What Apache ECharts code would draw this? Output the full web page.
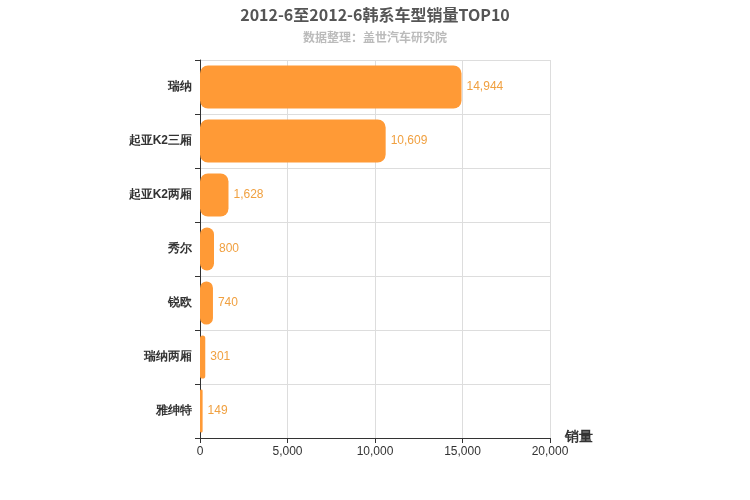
<!DOCTYPE html>
<html><head><meta charset="utf-8">
<script src="https://cdn.jsdelivr.net/npm/echarts@6/dist/echarts.min.js"></script>
</head><body style="margin:0">
<div id="c" style="width:750px;height:500px"></div>
<script>
var categories = ['瑞纳','起亚K2三厢','起亚K2两厢','秀尔','锐欧','瑞纳两厢','雅绅特'];
var values = [14944,10609,1628,800,740,301,149];
var xTicks = [0,5000,10000,15000,20000];
var chart = echarts.init(document.getElementById('c'));
chart.setOption({
  title:{text:'2012-6至2012-6韩系车型销量TOP10',subtext:'数据整理：盖世汽车研究院',left:'center',top:2,
    textStyle:{fontSize:16,fontWeight:'bold',color:'#555',fontFamily:'Noto Sans CJK SC'},
    subtextStyle:{fontSize:12,fontWeight:'bold',color:'#bbb',fontFamily:'Noto Sans CJK SC'},itemGap:8},
  grid:{left:200,right:200,top:60,bottom:62},
  xAxis:{type:'value',min:0,max:20000,interval:5000,name:'销量',nameLocation:'end',nameGap:15,
    nameTextStyle:{fontSize:14,fontWeight:'bold',color:'#333',verticalAlign:'top',padding:[-8,0,0,0]},
    axisLine:{show:true,lineStyle:{color:'#333'}},axisTick:{show:true},
    axisLabel:{color:'#333',formatter:function(v){return v.toLocaleString('en-US');}},
    splitLine:{lineStyle:{color:'#ddd'}}},
  yAxis:{type:'category',data:categories,inverse:true,
    axisLine:{lineStyle:{color:'#333'}},axisTick:{show:true},
    axisLabel:{color:'#333',fontWeight:'bold',fontSize:12},
    splitLine:{show:true,lineStyle:{color:'#ddd'}}},
  series:[{type:'bar',data:values,barWidth:'80%',
    itemStyle:{color:'#ff9a36',borderRadius:8},
    label:{show:true,position:'right',color:'#f0a040',fontSize:12,
      formatter:function(p){return p.value.toLocaleString('en-US');}}}]
});
</script></body></html>
